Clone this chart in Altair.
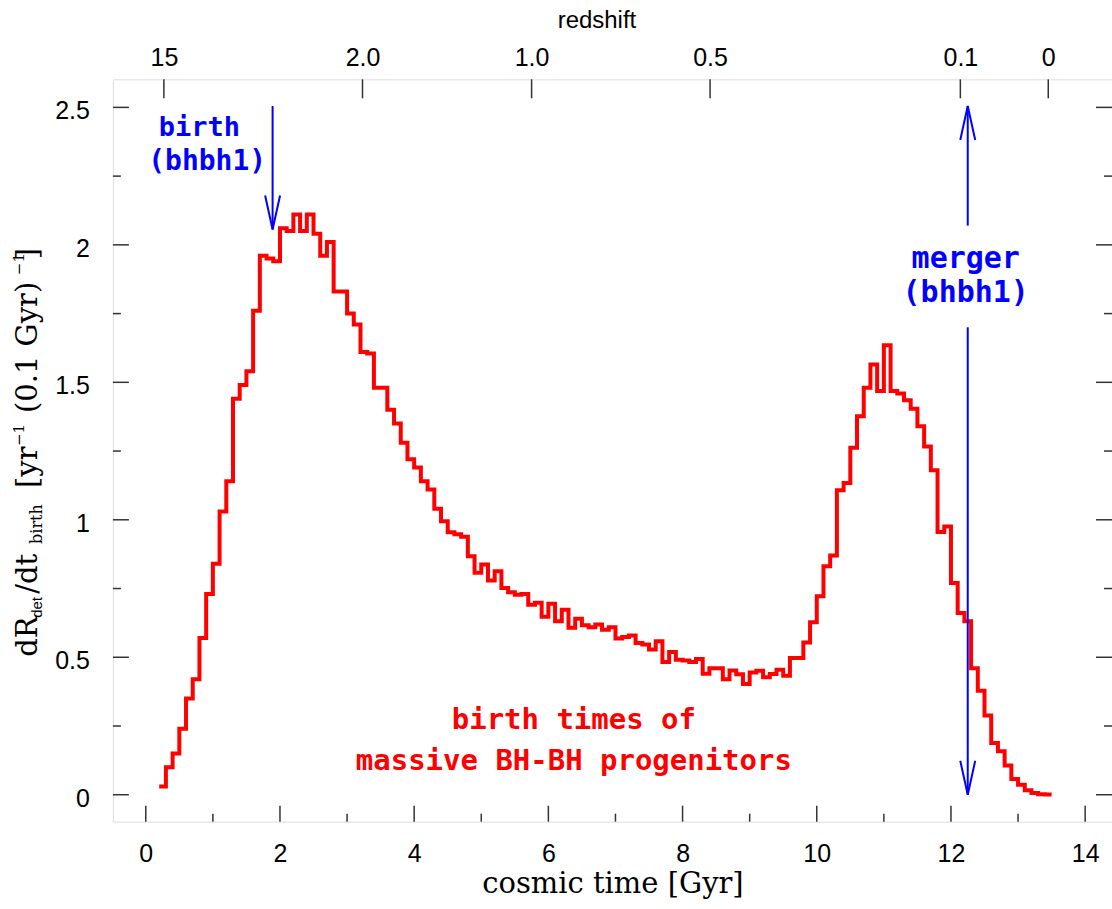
import altair as alt
import pandas as pd

# ---------------- data ----------------
bin_width = 0.1
first_bin = 0.2
rate = [
    0.03, 0.10, 0.15, 0.24, 0.35, 0.42, 0.57, 0.73, 0.84, 1.03, 1.14,
    1.44, 1.49, 1.54, 1.76, 1.96, 1.95, 1.94, 2.06, 2.05, 2.11,
    2.05, 2.11, 2.04, 1.96, 2.01, 1.83, 1.83, 1.75, 1.71, 1.61,
    1.605, 1.48, 1.48, 1.40, 1.35, 1.28, 1.22, 1.19, 1.14, 1.11,
    1.04, 0.995, 0.955, 0.947, 0.938, 0.867, 0.807, 0.837, 0.779, 0.813,
    0.752, 0.736, 0.727, 0.73, 0.691, 0.698, 0.647, 0.695, 0.631, 0.673,
    0.607, 0.640, 0.616, 0.609, 0.619, 0.600, 0.609, 0.568, 0.574, 0.579,
    0.552, 0.546, 0.528, 0.558, 0.483, 0.519, 0.491, 0.488, 0.483, 0.494,
    0.44, 0.46, 0.46, 0.42, 0.452, 0.438, 0.403, 0.445, 0.451, 0.427,
    0.439, 0.455, 0.433, 0.497, 0.497, 0.554, 0.627, 0.722, 0.831, 0.870,
    1.107, 1.134, 1.262, 1.377, 1.480, 1.565, 1.468, 1.635, 1.468, 1.459,
    1.435, 1.404, 1.340, 1.267, 1.180, 0.956, 0.976, 0.770, 0.661, 0.631,
    0.46, 0.378, 0.288, 0.188, 0.158, 0.106, 0.057, 0.036, 0.016, 0.006, 0.002, 0.001,
]

x_major = [0, 2, 4, 6, 8, 10, 12, 14]
x_minor = [1, 3, 5, 7, 9, 11, 13]
y_major = [0, 0.5, 1, 1.5, 2, 2.5]
y_labels = ["0", "0.5", "1", "1.5", "2", "2.5"]
y_minor = [0.25, 0.75, 1.25, 1.75, 2.25]

z_labels = ["15", "2.0", "1.0", "0.5", "0.1", "0"]
z_times = [0.27, 3.23, 5.75, 8.41, 12.14, 13.45]

# arrows (x, start y, tip y)
arrow_x = [1.89, 12.25, 12.25]
arrow_from = [2.505, 2.07, 1.70]
arrow_to = [2.056, 2.505, 0.0]

blue_text = ["birth", "(bhbh1)", "merger", "(bhbh1)"]
blue_x = [0.80, 0.915, 12.22, 12.22]
blue_y = [2.395, 2.271, 1.915, 1.791]
blue_size = [27, 28, 30, 30]

red_text = ["birth times of", "massive BH-BH progenitors"]
red_x = [6.38, 6.38]
red_y = [0.24, 0.091]

# ---------------- build ----------------
W, H = 1000, 743
RED = "#ff0000"
BLUE = "#0000ff"
TICK = "#333333"
SANS = "Liberation Sans"
SERIF = "DejaVu Serif"
MONO = "DejaVu Sans Mono"

t = [round(first_bin + bin_width * i, 2) for i in range(len(rate))]
hist = pd.DataFrame({"t": t + [round(t[-1] + bin_width, 2)], "r": rate + [rate[-1]]})

xs = alt.Scale(domain=[-0.49, 14.40], nice=False, zero=False)
ys = alt.Scale(domain=[-0.098, 2.602], nice=False, zero=False)

line = alt.Chart(hist).mark_line(
    interpolate="step-after", color=RED, strokeWidth=4, strokeJoin="miter"
).encode(
    x=alt.X("t:Q", scale=xs, axis=alt.Axis(
        values=x_major, ticks=False, tickSize=0, domain=False, grid=False,
        labelFont=SANS, labelFontSize=25, labelColor="black", labelPadding=20,
        title="cosmic time [Gyr]", titleFont=SERIF, titleFontSize=29,
        titleFontWeight="normal", titleColor="black", titlePadding=3)),
    y=alt.Y("r:Q", scale=ys, axis=None),
)

def rules_x(vals, y0, y1, axis=None):
    df = pd.DataFrame({"v": vals})
    return alt.Chart(df).mark_rule(color=TICK, strokeWidth=1.5).encode(
        x=alt.X("v:Q", scale=xs, axis=axis), y=alt.value(y0), y2=alt.value(y1))

def rules_y(vals, x0, x1):
    df = pd.DataFrame({"v": vals})
    return alt.Chart(df).mark_rule(color=TICK, strokeWidth=1.5).encode(
        y=alt.Y("v:Q", scale=ys, axis=None), x=alt.value(x0), x2=alt.value(x1))

label_expr = "[" + ",".join("'%s'" % s for s in z_labels) + "][indexof([" + \
    ",".join(repr(v) for v in z_times) + "], datum.value)]"

top_axis = alt.Axis(
    orient="top", values=z_times, labelExpr=label_expr, ticks=False, tickSize=0,
    domain=False, grid=False, labelFont=SANS, labelFontSize=25, labelColor="black",
    labelPadding=9, title="redshift", titleFont=SANS, titleFontSize=24,
    titleFontWeight="normal", titleColor="black", titlePadding=13,
    titleX=484, titleAlign="center")

ticks = [
    rules_x(x_major, H, H - 16),
    rules_x(x_minor, H, H - 8),
    rules_x(z_times, 0, 19, axis=top_axis),
    rules_y(y_major, 0, 16),
    rules_y(y_minor, 0, 8),
    rules_y(y_major, W, W - 16),
    rules_y(y_minor, W, W - 8),
]

# left tick labels, placed through the y scale
ylab = alt.Chart(pd.DataFrame({"v": y_major, "s": y_labels})).mark_text(
    align="right", baseline="middle", font=SANS, fontSize=25, color="black", dy=4
).encode(y=alt.Y("v:Q", scale=ys, axis=None), x=alt.value(-23), text="s:N")

arrows = pd.DataFrame({"x": arrow_x, "y0": arrow_from, "y1": arrow_to})
shafts = alt.Chart(arrows).mark_rule(color=BLUE, strokeWidth=2).encode(
    x=alt.X("x:Q", scale=xs, axis=None),
    y=alt.Y("y0:Q", scale=ys, axis=None), y2="y1:Q")
down_tips = alt.Chart(arrows).transform_filter("datum.y1 < datum.y0").mark_point(
    shape="M -0.22 -1 L 0 0 L 0.22 -1", filled=False, stroke=BLUE, strokeWidth=2,
    size=4624, opacity=1).encode(
    x=alt.X("x:Q", scale=xs, axis=None), y=alt.Y("y1:Q", scale=ys, axis=None))
up_tips = alt.Chart(arrows).transform_filter("datum.y1 > datum.y0").mark_point(
    shape="M -0.22 1 L 0 0 L 0.22 1", filled=False, stroke=BLUE, strokeWidth=2,
    size=4624, opacity=1).encode(
    x=alt.X("x:Q", scale=xs, axis=None), y=alt.Y("y1:Q", scale=ys, axis=None))

btxt = pd.DataFrame({"s": blue_text, "x": blue_x, "y": blue_y, "fs": blue_size})
blue_marks = alt.Chart(btxt).mark_text(
    font=MONO, fontWeight="bold", color=BLUE, align="center", baseline="alphabetic"
).encode(x=alt.X("x:Q", scale=xs, axis=None), y=alt.Y("y:Q", scale=ys, axis=None),
         text="s:N", size=alt.Size("fs:Q", scale=None, legend=None))

rtxt = pd.DataFrame({"s": red_text, "x": red_x, "y": red_y})
red_marks = alt.Chart(rtxt).mark_text(
    font=MONO, fontWeight="bold", color=RED, align="center", baseline="alphabetic",
    fontSize=29
).encode(x=alt.X("x:Q", scale=xs, axis=None), y=alt.Y("y:Q", scale=ys, axis=None),
         text="s:N")

# y-axis title with sub/superscripts, pieces laid out along the rotated baseline
OX, OY = 113, 79
pieces = [
    ("dR", 657, 37, 29, SERIF),
    ("det", 618, 42, 15, SANS),
    ("/dt", 594, 37, 29, SERIF),
    ("birth", 544, 42, 16, SERIF),
    ("[yr", 488, 37, 29, SERIF),
    ("\u22121", 446, 24, 15, SERIF),
    ("(0.1 Gyr)", 413, 37, 29, SERIF),
    ("\u22121", 275, 24, 15, SERIF),
    ("]", 259, 37, 29, SERIF),
]
ytitle = []
for s, py, px, fs, fnt in pieces:
    ytitle.append(alt.Chart(pd.DataFrame({"s": [s]})).mark_text(
        angle=270, align="left", baseline="alphabetic", font=fnt, fontSize=fs,
        color="black").encode(x=alt.value(px - OX), y=alt.value(py - OY), text="s:N"))

chart = alt.layer(line, *ticks, ylab, shafts, down_tips, up_tips, blue_marks, red_marks,
                  *ytitle).resolve_axis(x="independent").properties(
    width=W, height=H,
    autosize=alt.AutoSizeParams(type="none"),
    padding={"left": OX, "top": OY, "right": 0, "bottom": 909 - OY - H},
).configure_view(stroke="black", strokeWidth=2).configure(background="white")

chart.save("out.html", embed_options={"renderer": "svg", "actions": False})
